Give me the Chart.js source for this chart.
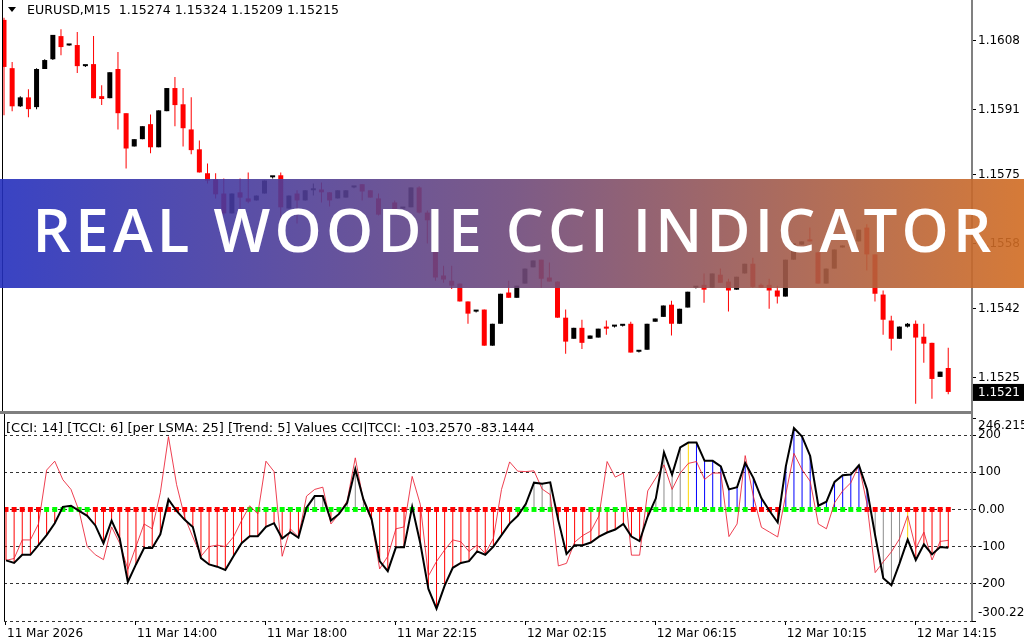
<!DOCTYPE html>
<html>
<head>
<meta charset="utf-8">
<script src="https://cdn.jsdelivr.net/npm/chart.js@4.4.1/dist/chart.umd.min.js"></script>
<style>
  html, body { margin: 0; padding: 0; background: #fff; }
  #wrap { position: relative; width: 1024px; height: 640px; overflow: hidden; background: #fff; }
  #priceCanvas { position: absolute; left: 0; top: 0; }
  #sep { position: absolute; left: 0; top: 411px; width: 973px; height: 3px; background: #7f7f7f; }
  #cciCanvas { position: absolute; left: 0; top: 414px; }
  #banner {
    position: absolute; left: 0; top: 179px; width: 1024px; height: 109px;
    background: linear-gradient(90deg, rgba(36,47,189,0.9) 0%, rgba(110,73,123,0.9) 50%, rgba(209,108,34,0.9) 100%);
  }
  #bannerRow { position: absolute; left: 0; top: 20px; width: 1024px; text-align: center; }
  #bannerText {
    display: inline-block; color: #fff; white-space: nowrap;
    font-family: "Open Sans", Lato, sans-serif; font-weight: 600; font-size: 60px; line-height: 60px;
  }
</style>
</head>
<body>
<div id="wrap">
  <canvas id="priceCanvas" width="1024" height="411"></canvas>
  <div id="sep"></div>
  <canvas id="cciCanvas" width="1024" height="226"></canvas>
  <div id="banner"><div id="bannerRow"><span id="bannerText"></span></div></div>
</div>
<script>
// ---- chart data ----
const symbolName = 'EURUSD';
const timeframe = 'M15';
const bannerTitle = 'REAL WOODIE CCI INDICATOR';

const candleOpen = [
  1.16132, 1.16013, 1.15919, 1.15941, 1.15917, 1.16011, 1.16035, 1.16092, 1.16069, 1.16070,
  1.16018, 1.16023, 1.15944, 1.15939, 1.16011, 1.15902, 1.15820, 1.15838, 1.15875, 1.15818,
  1.15907, 1.15964, 1.15924, 1.15862, 1.15813, 1.15754, 1.15739, 1.15704, 1.15655, 1.15707,
  1.15692, 1.15687, 1.15704, 1.15744, 1.15749, 1.15667, 1.15704, 1.15687, 1.15712, 1.15714,
  1.15707, 1.15692, 1.15694, 1.15719, 1.15727, 1.15712, 1.15692, 1.15655, 1.15682, 1.15667,
  1.15670, 1.15719, 1.15657, 1.15583, 1.15502, 1.15489, 1.15482, 1.15438, 1.15413, 1.15418,
  1.15329, 1.15383, 1.15460, 1.15447, 1.15482, 1.15522, 1.15541, 1.15497, 1.15487, 1.15398,
  1.15346, 1.15373, 1.15346, 1.15349, 1.15376, 1.15376, 1.15378, 1.15383, 1.15314, 1.15319,
  1.15388, 1.15400, 1.15430, 1.15383, 1.15423, 1.15472, 1.15479, 1.15472, 1.15504, 1.15487,
  1.15467, 1.15507, 1.15531, 1.15479, 1.15479, 1.15465, 1.15450, 1.15541, 1.15578, 1.15588,
  1.15559, 1.15482, 1.15519, 1.15571, 1.15583, 1.15586, 1.15620, 1.15554, 1.15455, 1.15391,
  1.15346, 1.15376, 1.15383, 1.15351, 1.15336, 1.15252, 1.15274
];
const candleHigh = [
  1.16137, 1.16028, 1.15944, 1.15961, 1.16013, 1.16035, 1.16095, 1.16109, 1.16070, 1.16102,
  1.16020, 1.16092, 1.15971, 1.16003, 1.16053, 1.15902, 1.15838, 1.15870, 1.15899, 1.15909,
  1.15964, 1.15991, 1.15964, 1.15941, 1.15835, 1.15778, 1.15754, 1.15741, 1.15704, 1.15741,
  1.15756, 1.15699, 1.15736, 1.15746, 1.15756, 1.15699, 1.15712, 1.15712, 1.15729, 1.15731,
  1.15707, 1.15712, 1.15712, 1.15722, 1.15727, 1.15712, 1.15704, 1.15657, 1.15687, 1.15669,
  1.15719, 1.15722, 1.15662, 1.15601, 1.15526, 1.15526, 1.15482, 1.15438, 1.15415, 1.15418,
  1.15383, 1.15457, 1.15489, 1.15477, 1.15519, 1.15539, 1.15541, 1.15534, 1.15487, 1.15418,
  1.15373, 1.15393, 1.15354, 1.15371, 1.15391, 1.15378, 1.15380, 1.15388, 1.15316, 1.15383,
  1.15396, 1.15428, 1.15440, 1.15420, 1.15462, 1.15474, 1.15507, 1.15507, 1.15519, 1.15494,
  1.15499, 1.15531, 1.15546, 1.15482, 1.15494, 1.15477, 1.15541, 1.15581, 1.15586, 1.15620,
  1.15559, 1.15519, 1.15566, 1.15576, 1.15590, 1.15615, 1.15628, 1.15554, 1.15465, 1.15403,
  1.15376, 1.15385, 1.15391, 1.15383, 1.15336, 1.15265, 1.15324
];
const candleLow = [
  1.15897, 1.15907, 1.15917, 1.15892, 1.15912, 1.16011, 1.16033, 1.16045, 1.16068, 1.16001,
  1.16016, 1.15939, 1.15922, 1.15939, 1.15862, 1.15766, 1.15820, 1.15838, 1.15803, 1.15818,
  1.15907, 1.15870, 1.15820, 1.15801, 1.15756, 1.15729, 1.15692, 1.15650, 1.15655, 1.15667,
  1.15680, 1.15687, 1.15704, 1.15741, 1.15601, 1.15667, 1.15630, 1.15687, 1.15699, 1.15682,
  1.15672, 1.15692, 1.15694, 1.15717, 1.15687, 1.15694, 1.15650, 1.15652, 1.15662, 1.15665,
  1.15670, 1.15655, 1.15581, 1.15489, 1.15484, 1.15469, 1.15438, 1.15383, 1.15411, 1.15329,
  1.15329, 1.15383, 1.15447, 1.15447, 1.15482, 1.15522, 1.15472, 1.15487, 1.15398, 1.15309,
  1.15346, 1.15321, 1.15346, 1.15349, 1.15356, 1.15374, 1.15376, 1.15312, 1.15312, 1.15319,
  1.15388, 1.15400, 1.15354, 1.15383, 1.15423, 1.15470, 1.15435, 1.15472, 1.15484, 1.15413,
  1.15467, 1.15507, 1.15472, 1.15472, 1.15420, 1.15433, 1.15450, 1.15541, 1.15578, 1.15586,
  1.15482, 1.15482, 1.15519, 1.15571, 1.15583, 1.15586, 1.15514, 1.15438, 1.15356, 1.15317,
  1.15346, 1.15374, 1.15186, 1.15287, 1.15198, 1.15252, 1.15209
];
const candleClose = [
  1.16016, 1.15919, 1.15941, 1.15912, 1.16011, 1.16033, 1.16095, 1.16065, 1.16069, 1.16018,
  1.16018, 1.15939, 1.15937, 1.16003, 1.15902, 1.15815, 1.15838, 1.15870, 1.15818, 1.15909,
  1.15964, 1.15922, 1.15865, 1.15811, 1.15756, 1.15736, 1.15702, 1.15655, 1.15704, 1.15694,
  1.15684, 1.15699, 1.15736, 1.15744, 1.15670, 1.15699, 1.15687, 1.15712, 1.15712, 1.15707,
  1.15687, 1.15712, 1.15712, 1.15719, 1.15709, 1.15694, 1.15652, 1.15655, 1.15665, 1.15667,
  1.15719, 1.15657, 1.15638, 1.15497, 1.15492, 1.15477, 1.15438, 1.15408, 1.15413, 1.15329,
  1.15383, 1.15457, 1.15447, 1.15477, 1.15519, 1.15539, 1.15494, 1.15487, 1.15398, 1.15339,
  1.15373, 1.15336, 1.15354, 1.15371, 1.15371, 1.15376, 1.15378, 1.15312, 1.15314, 1.15383,
  1.15396, 1.15428, 1.15383, 1.15420, 1.15462, 1.15472, 1.15467, 1.15507, 1.15484, 1.15465,
  1.15499, 1.15531, 1.15474, 1.15472, 1.15465, 1.15450, 1.15541, 1.15581, 1.15586, 1.15586,
  1.15482, 1.15519, 1.15566, 1.15576, 1.15590, 1.15615, 1.15554, 1.15457, 1.15393, 1.15346,
  1.15376, 1.15383, 1.15349, 1.15334, 1.15247, 1.15265, 1.15215
];

// Woodie CCI(14) and turbo CCI(6)
const cciValues = [
  -137, -144, -122, -122, -96, -69, -37, 7, 10, -4,
  -17, -43, -91, -30, -78, -195, -148, -104, -104, -67,
  27, -4, -28, -47, -131, -148, -154, -163, -126, -91,
  -72, -72, -47, -37, -78, -61, -76, 5, 36, 36,
  -30, -12, 18, 109, 27, -25, -139, -166, -102, -102,
  7, -91, -214, -267, -205, -157, -144, -139, -113, -122,
  -100, -69, -38, -17, 15, 72, 69, 73, -30, -120,
  -96, -96, -89, -73, -62, -54, -39, -73, -85, -19,
  30, 154, 94, 167, 180, 180, 131, 131, 116, 54,
  60, 125, 85, 30, -4, -35, 116, 219, 196, 144,
  10, 21, 74, 92, 94, 119, 54, -70, -185, -204,
  -145, -81, -136, -94, -121, -101, -103.257
];
const tcciValues = [
  -137, -132, -82, -82, -39, 106, 130, 80, 54, -4,
  -100, -122, -135, -47, -91, -161, -100, -39, -52, 45,
  196, 67, -21, -74, -126, -100, -96, -100, -74, -30,
  10, -12, 130, 102, -126, -52, -74, 36, 54, 60,
  -39, -12, 23, 139, 23, -30, -160, -126, -52, -47,
  89, 14, -179, -140, -109, -82, -87, -113, -96, -118,
  -78, 54, 128, 103, 102, 104, 55, 40, -152, -145,
  -88, -70, -58, -17, 129, 87, 98, -123, -123, 50,
  85, 120, 54, 98, 124, 129, 81, 98, 98, -73,
  -39, 145, 36, -48, -61, -74, 41, 151, 107, 76,
  -39, -52, 18, 50, 72, 119, 14, -170, -141, -114,
  -79, -17, -105, -61, -136, -86, -83.1444
];
// histogram state: R = down trend, G = neutral (gray), B = up trend, Y = trend bar
const histState = (
  'RRRRRRRGGR' + 'RRRRRRRRRR' + 'GRRRRRRRRR' + 'RRRRRRRGGG' + 'RRGGGRRRRR' +
  'GRRRRRRRRR' + 'RRRRGGGGRR' + 'RRRRRRRRRR' + 'GGGGYBBBBB' + 'BBBBRRBBBB' +
  'BBBBBBBGGG' + 'GYRRRRR'
).split('');
// LSMA trend dots on the zero line: G = rising, R = falling
const lsmaTrend = (
  'RRRRRGGGGG' + 'GRRRRRRRRR' + 'RRRRRRRRRR' + 'GGGGGGGGGG' + 'GGGGGRRRRR' +
  'GRRRRRRRRR' + 'RRRGGGGGRR' + 'RRGGGGGRRG' + 'GGGGGGGGGG' + 'GGRRRRGGGG' +
  'GGGGGGRRRR' + 'RRRRRRR'
).split('');

const cciParams = { cci: 14, tcci: 6, lsma: 25, trend: 5 };

const priceTicks = [1.1608, 1.1591, 1.1575, 1.1558, 1.1542, 1.1525];
const cciTickValues = [-300.22, -200, -100, 0, 100, 200, 246.215];
const cciTickLabels = ['-300.22', '-200', '-100', '0.00', '100', '200', '246.215'];
const timeTickIndex = [0, 16, 32, 48, 64, 80, 96, 112];
const timeTickLabels = ['11 Mar 2026', '11 Mar 14:00', '11 Mar 18:00', '11 Mar 22:15',
                        '12 Mar 02:15', '12 Mar 06:15', '12 Mar 10:15', '12 Mar 14:15'];

// ---- shared look ----
const FONT_FAMILY = '"DejaVu Sans", Tahoma, sans-serif';
const AXIS_FONT = { family: FONT_FAMILY, size: 12 };
const X_MIN = -0.246, X_MAX = 118.92;
const AXIS_W = 52;
const last = candleClose.length - 1;

const isBull = (i) => candleClose[i] >= candleOpen[i];
const candleColor = candleClose.map((c, i) => isBull(i) ? '#000000' : '#ff0000');
const histColors = { R: '#ff0000', G: '#8c8c8c', B: '#0000ff', Y: '#ffd700' };

// MT4 shows the bid cut to 4 digits
const bidLabel = (v) => (Math.floor(v * 10000 + 1e-6) / 10000).toFixed(4);

// fixed-width right axis so both panes line up
const fixRightAxis = (scale) => {
  scale.width = AXIS_W;
  scale.paddingTop = 0;
  scale.paddingBottom = 0;
};

// left frame line + grey right axis line
const paneFrame = {
  id: 'paneFrame',
  afterDraw(chart) {
    const { ctx, chartArea: a } = chart;
    ctx.save();
    ctx.fillStyle = '#000';
    ctx.fillRect(a.left, 0, 1, a.bottom);
    ctx.fillStyle = '#808080';
    ctx.fillRect(a.right - 1, 0, 2, a.bottom);
    ctx.restore();
  }
};

// symbol header and current price marker on the price pane
const priceExtras = {
  id: 'priceExtras',
  afterDraw(chart) {
    const { ctx, chartArea: a, scales: { y } } = chart;
    ctx.save();
    ctx.fillStyle = '#000';
    ctx.beginPath();
    ctx.moveTo(8, 7); ctx.lineTo(16, 7); ctx.lineTo(12, 12); ctx.closePath();
    ctx.fill();
    ctx.font = `12.6px ${FONT_FAMILY}`;
    ctx.textBaseline = 'middle';
    ctx.fillStyle = '#000';
    const head = `${symbolName},${timeframe}  ${candleOpen[last].toFixed(5)} ${candleHigh[last].toFixed(5)} ${candleLow[last].toFixed(5)} ${candleClose[last].toFixed(5)}`;
    ctx.fillText(head, 27, 11);

    const py = y.getPixelForValue(candleClose[last]);
    ctx.font = `12px ${FONT_FAMILY}`;
    ctx.fillStyle = '#000';
    ctx.fillRect(a.right + 1, py - 8, 51, 17);
    ctx.fillStyle = '#fff';
    ctx.fillText(bidLabel(candleClose[last]), a.right + 6, py + 1);
    ctx.restore();
  }
};

// indicator caption and the clamped min/max labels on the CCI pane
const cciExtras = {
  id: 'cciExtras',
  afterDraw(chart) {
    const { ctx, chartArea: a } = chart;
    ctx.save();
    ctx.textBaseline = 'middle';
    ctx.fillStyle = '#000';
    ctx.font = `13px ${FONT_FAMILY}`;
    const cap = `[CCI: ${cciParams.cci}] [TCCI: ${cciParams.tcci}] [per LSMA: ${cciParams.lsma}] [Trend: ${cciParams.trend}] Values CCI|TCCI: ${cciValues[last].toFixed(4)} ${tcciValues[last].toFixed(4)}`;
    ctx.fillText(cap, 6, a.top + 11);
    ctx.font = `12px ${FONT_FAMILY}`;
    ctx.fillText(cciTickLabels[cciTickLabels.length - 1], a.right + 6, a.top + 8);
    ctx.fillText(cciTickLabels[0], a.right + 6, a.bottom - 8);
    ctx.restore();
  }
};

// ---- price pane ----
new Chart(document.getElementById('priceCanvas'), {
  type: 'bar',
  data: {
    datasets: [
      {
        label: 'wick',
        data: candleLow.map((l, i) => ({ x: i, y: [l, candleHigh[i]] })),
        backgroundColor: candleColor,
        grouped: false, maxBarThickness: 1, inflateAmount: 0, order: 2
      },
      {
        label: 'body',
        data: candleOpen.map((o, i) => ({ x: i, y: [o, candleClose[i]] })),
        backgroundColor: candleColor,
        grouped: false, maxBarThickness: 5, minBarLength: 2, inflateAmount: 0, order: 1
      }
    ]
  },
  options: {
    responsive: false,
    animation: false,
    layout: { padding: { left: 2, top: 0, right: 0, bottom: 0 } },
    plugins: { legend: { display: false }, tooltip: { enabled: false } },
    scales: {
      x: { type: 'linear', min: X_MIN, max: X_MAX, offset: false, display: false },
      y: {
        position: 'right',
        min: 1.15168, max: 1.16181,
        afterBuildTicks: (s) => { s.ticks = priceTicks.map(v => ({ value: v })); },
        afterFit: fixRightAxis,
        ticks: { font: AXIS_FONT, color: '#000', padding: 2, callback: (v) => v.toFixed(4) },
        grid: { drawOnChartArea: false, tickLength: 4, tickColor: '#000' },
        border: { display: false }
      }
    }
  },
  plugins: [paneFrame, priceExtras]
});

// ---- CCI pane ----
new Chart(document.getElementById('cciCanvas'), {
  type: 'bar',
  data: {
    datasets: [
      {
        type: 'line', label: 'CCI',
        data: cciValues.map((v, i) => ({ x: i, y: v })),
        borderColor: '#000', borderWidth: 2, pointRadius: 0, tension: 0, order: 1
      },
      {
        type: 'line', label: 'TCCI',
        data: tcciValues.map((v, i) => ({ x: i, y: v })),
        borderColor: 'rgba(235,30,50,0.85)', borderWidth: 1, pointRadius: 0, tension: 0, order: 2
      },
      {
        type: 'line', label: 'LSMA',
        data: lsmaTrend.map((t, i) => ({ x: i, y: 0 })),
        showLine: false, pointStyle: 'rect', pointRadius: 3.5, pointBorderWidth: 0,
        pointBackgroundColor: lsmaTrend.map(t => t === 'G' ? '#00ff00' : '#ff0000'),
        order: 3
      },
      {
        type: 'bar', label: 'Histogram',
        data: cciValues.map((v, i) => ({ x: i, y: v })),
        backgroundColor: histState.map(s => histColors[s]),
        maxBarThickness: 1, inflateAmount: 0, order: 4
      }
    ]
  },
  options: {
    responsive: false,
    animation: false,
    layout: { padding: { left: 2, top: 2, right: 0, bottom: 0 } },
    plugins: { legend: { display: false }, tooltip: { enabled: false } },
    scales: {
      x: {
        type: 'linear', min: X_MIN, max: X_MAX, position: 'bottom', offset: false,
        afterBuildTicks: (s) => { s.ticks = timeTickIndex.map(v => ({ value: v })); },
        afterFit: (s) => { s.height = 19; s.paddingLeft = 0; s.paddingRight = 0; },
        ticks: {
          font: AXIS_FONT, color: '#000', align: 'start', maxRotation: 0, autoSkip: false,
          padding: 2, labelOffset: 1,
          callback: (v, i) => timeTickLabels[i]
        },
        grid: { drawOnChartArea: false, offset: false, tickLength: 4, tickColor: '#000' },
        border: { display: false }
      },
      y: {
        position: 'right',
        min: cciTickValues[0], max: cciTickValues[cciTickValues.length - 1],
        afterBuildTicks: (s) => { s.ticks = cciTickValues.map(v => ({ value: v })); },
        afterFit: fixRightAxis,
        ticks: {
          font: AXIS_FONT, color: '#000', padding: 2,
          callback: (v, i) => (i === 0 || i === cciTickValues.length - 1) ? '' : cciTickLabels[i]
        },
        grid: {
          color: (c) => (c.tick && c.tick.value === cciTickValues[cciTickValues.length - 1]) ? 'rgba(0,0,0,0)' : '#333',
          lineWidth: 1, tickLength: 4, tickColor: '#000'
        },
        border: { display: false, dash: [3, 3] }
      }
    }
  },
  plugins: [paneFrame, cciExtras]
});

// ---- title banner: stretch letters to the reference width ----
const bannerSpan = document.getElementById('bannerText');
bannerSpan.textContent = bannerTitle;
const natural = bannerSpan.getBoundingClientRect().width;
const spacing = (963 - natural) / bannerTitle.length;
bannerSpan.style.letterSpacing = spacing + 'px';
bannerSpan.style.paddingLeft = spacing + 'px';
</script>
</body>
</html>
